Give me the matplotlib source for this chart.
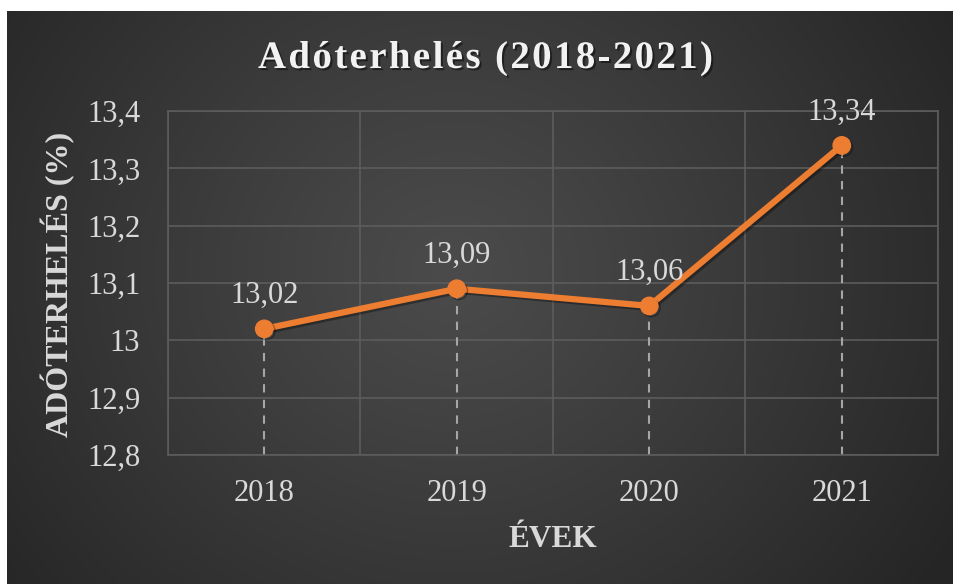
import numpy as np
import matplotlib
matplotlib.use("Agg")
import matplotlib.pyplot as plt
import matplotlib.patheffects as pe

years = ["2018", "2019", "2020", "2021"]
values = [13.02, 13.09, 13.06, 13.34]
value_labels = ["13,02", "13,09", "13,06", "13,34"]
yticks = [12.8, 12.9, 13.0, 13.1, 13.2, 13.3, 13.4]
ytick_labels = ["12,8", "12,9", "13", "13,1", "13,2", "13,3", "13,4"]
title = "Adóterhelés (2018-2021)"
xlabel = "ÉVEK"
ylabel = "ADÓTERHELÉS (%)"

W, H = 954, 584
fig = plt.figure(figsize=(W / 100, H / 100), dpi=100)
fig.patch.set_facecolor("white")

# background panel with radial gradient
bx0 = 7 / W
bg = fig.add_axes([bx0, 0, 1 - bx0, 1 - 11 / H])
ny, nx = 300, 500
yy, xx = np.mgrid[0:ny, 0:nx]
cx, cy = nx * 0.47, ny * 0.45
r = np.sqrt(((xx - cx) / (nx * 0.62)) ** 2 + ((yy - cy) / (ny * 0.95)) ** 2)
r = np.clip(r, 0, 1)
c_in, c_out = 0x4b / 255, 0x25 / 255
val = c_in + (c_out - c_in) * r ** 1.1
img = np.dstack([val, val, val])
bg.imshow(img, aspect="auto", extent=[0, 1, 0, 1], interpolation="bilinear")
bg.set_axis_off()

serif = ["Liberation Serif", "DejaVu Serif"]

# plot area
px0, px1 = 168, 938
py0, py1 = 111, 455
ax = fig.add_axes([px0 / W, 1 - py1 / H, (px1 - px0) / W, (py1 - py0) / H])
ax.set_facecolor("none")
x = np.arange(len(years))
ax.set_xlim(-0.5, len(years) - 0.5)
ax.set_ylim(12.8, 13.4)
ax.set_yticks(yticks)
ax.set_yticklabels(ytick_labels)
ax.set_xticks(x)
ax.set_xticklabels(years)
ax.set_xticks(np.arange(-0.5, len(years), 1), minor=True)
ax.grid(True, which="major", axis="y", color="#5c5c5c", lw=1.2)
ax.grid(True, which="minor", axis="x", color="#5c5c5c", lw=1.2)
ax.tick_params(which="both", length=0)
for s in ax.spines.values():
    s.set_color("#5c5c5c")
    s.set_linewidth(1.2)

for lab in ax.get_xticklabels() + ax.get_yticklabels():
    lab.set_fontfamily(serif)
    lab.set_fontsize(22)
    lab.set_color("#d9d9d9")
ax.tick_params(axis="x", pad=17)
ax.tick_params(axis="y", pad=20)

# drop lines
ax.vlines(x, 12.8, values, colors="#a6a6a6", linestyles=(0, (4, 3.5)), lw=1.5, zorder=2)

shadow = [pe.SimpleLineShadow(offset=(1.5, -1.5), shadow_color="black", alpha=0.35), pe.Normal()]
ax.plot(x, values, color="#ed7d31", lw=4.5, marker="o", ms=12.5, mfc="#ed7d31",
        mec="#ed7d31", zorder=3, solid_capstyle="round", path_effects=shadow)

for xi, v, t in zip(x, values, value_labels):
    ax.annotate(t, (xi, v), xytext=(0, 18.7), textcoords="offset points",
                ha="center", va="baseline", fontsize=22, family=serif,
                color="#d9d9d9", annotation_clip=False)

# title with letter spacing
renderer = fig.canvas.get_renderer()
t_left, t_right, t_base = 258, 713, 68
tfs = 28
widths = []
for ch in title:
    if ch == " ":
        tmp = fig.text(0, 0, "a a", fontsize=tfs, fontweight="bold", family=serif)
        tmp2 = fig.text(0, 0, "aa", fontsize=tfs, fontweight="bold", family=serif)
        w = tmp.get_window_extent(renderer).width - tmp2.get_window_extent(renderer).width
        tmp.remove(); tmp2.remove()
    else:
        tmp = fig.text(0, 0, ch, fontsize=tfs, fontweight="bold", family=serif)
        w = tmp.get_window_extent(renderer).width
        tmp.remove()
    widths.append(w)
spacing = ((t_right - t_left) - sum(widths)) / (len(title) - 1)
xpos = t_left
tshadow = [pe.SimplePatchShadow(offset=(1.5, -1.5), shadow_rgbFace="black", alpha=0.45), pe.Normal()]
for ch, w in zip(title, widths):
    if ch != " ":
        fig.text(xpos / W, 1 - t_base / H, ch, ha="left", va="baseline", fontsize=tfs,
                 fontweight="bold", family=serif, color="#f2f2f2", path_effects=tshadow)
    xpos += w + spacing

fig.text(553 / W, 1 - 547 / H, xlabel, ha="center", va="baseline", fontsize=22.5,
         fontweight="bold", family=serif, color="#d9d9d9")
fig.text(58 / W, 1 - 284 / H, ylabel, ha="center", va="center", fontsize=23,
         fontweight="bold", family=serif, color="#d9d9d9", rotation=90)

fig.savefig("out.png", dpi=100, facecolor=fig.get_facecolor())
